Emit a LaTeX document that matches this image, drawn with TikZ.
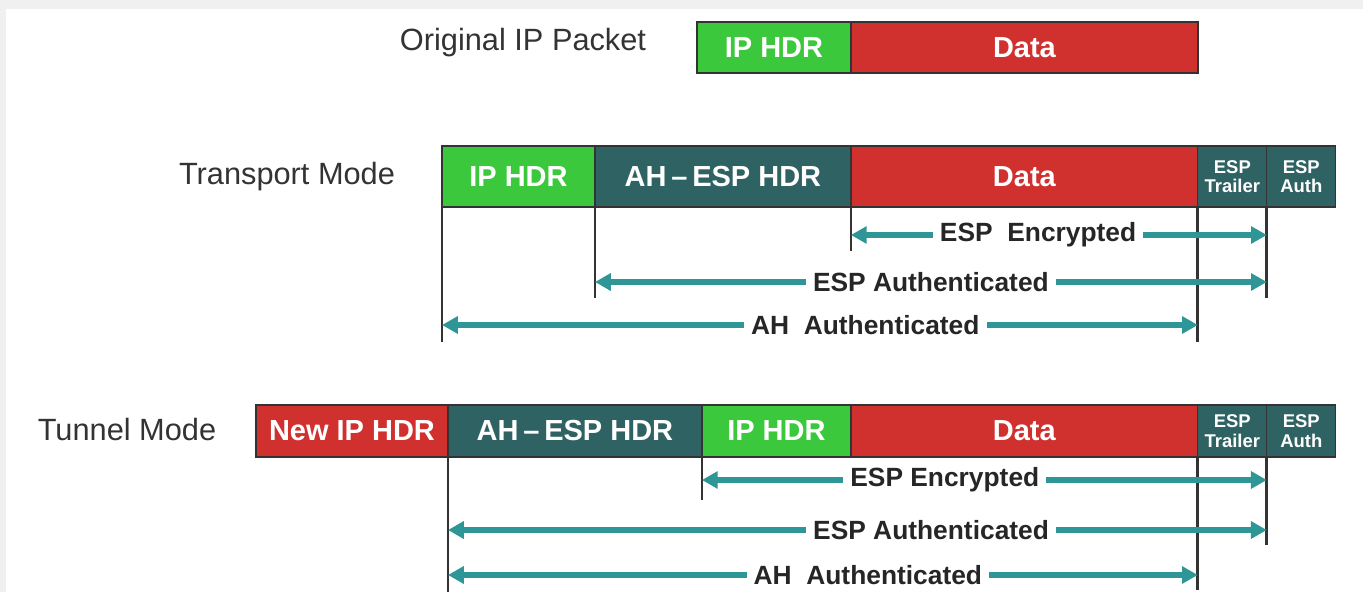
\documentclass[tikz,border=0pt]{standalone}
\usepackage{fontspec}
\setmainfont{Liberation Sans}
\usetikzlibrary{positioning, arrows.meta}
\definecolor{ipsecG}{HTML}{3CC83C}
\definecolor{ipsecR}{HTML}{D0302E}
\definecolor{ipsecT}{HTML}{2F6262}
\definecolor{ipsecA}{HTML}{2E9696}
\definecolor{ipsecK}{HTML}{333333}
\tikzstyle{hdr}=[rectangle, draw=ipsecK, line width=0.7pt, outer sep=0pt, inner sep=1pt, text=white, font=\fontsize{16.5}{18}\selectfont\bfseries]
\tikzstyle{tiny}=[hdr, fill=ipsecT, align=center, font=\fontsize{10.5}{11}\selectfont\bfseries]
\tikzstyle{mode}=[text=ipsecK, font=\fontsize{17.5}{19}\selectfont]
\tikzstyle{drop}=[draw=ipsecK, line width=1.6pt]
\tikzstyle{span}=[draw=ipsecA, line width=3.2pt, {Triangle[length=9pt,width=9.5pt]}-{Triangle[length=9pt,width=9.5pt]}]
\tikzstyle{lbl}=[fill=white, inner xsep=4pt, inner ysep=1pt, text=black!85, font=\fontsize{15}{17}\selectfont\bfseries]

\begin{document}
\begin{tikzpicture}[x=0.02cm, y=-0.02cm]
	\useasboundingbox (0,0) rectangle (1363,592);
	\fill[gray!12] (0,0) rectangle (1363,592);
	\fill[white] (6,9) rectangle (1363,592);

	% Original packet
	\node[mode] (olbl) at (523,43) {Original IP Packet};
	\node[hdr, fill=ipsecG, minimum width=3.08cm, minimum height=1.02cm, anchor=north west] (oip) at (697,22) {IP HDR};
	\node[hdr, fill=ipsecR, minimum width=6.94cm, minimum height=1.02cm, right=0pt of oip] (odata) {Data};

	% Transport mode
	\node[mode] (tlbl) at (287,177) {Transport Mode};
	\node[hdr, fill=ipsecG, minimum width=3.06cm, minimum height=1.22cm, anchor=north west] (tip) at (442,146) {IP HDR};
	\node[hdr, fill=ipsecT, minimum width=5.12cm, minimum height=1.22cm, right=0pt of tip] (tesp) {AH\,--\,ESP HDR};
	\node[hdr, fill=ipsecR, minimum width=6.94cm, minimum height=1.22cm, right=0pt of tesp] (tdata) {Data};
	\node[tiny, minimum width=1.38cm, minimum height=1.22cm, right=0pt of tdata] (ttrl) {ESP\\Trailer};
	\node[tiny, minimum width=1.38cm, minimum height=1.22cm, right=0pt of ttrl] (tauth) {ESP\\Auth};

	\draw[drop] (tip.south west) -- (tip.south west |- 0,342);
	\draw[drop] (tesp.south west) -- (tesp.south west |- 0,298);
	\draw[drop] (tdata.south west) -- (tdata.south west |- 0,251);
	\draw[drop] (ttrl.south west) -- (ttrl.south west |- 0,342);
	\draw[drop] (tauth.south west) -- (tauth.south west |- 0,298);

	\draw[span] (tdata.south west |- 0,235) -- node[lbl, pos=.45] {ESP~ Encrypted} (tauth.south west |- 0,235);
	\draw[span] (tesp.south west |- 0,282) -- node[lbl, pos=.5] {ESP Authenticated} (tauth.south west |- 0,282);
	\draw[span] (tip.south west |- 0,325) -- node[lbl, pos=.56] {AH~ Authenticated} (ttrl.south west |- 0,325);

	% Tunnel mode
	\node[mode] (nlbl) at (127,430) {Tunnel Mode};
	\node[hdr, fill=ipsecR, minimum width=3.84cm, minimum height=1.04cm, anchor=north west] (nnew) at (256,405) {New IP HDR};
	\node[hdr, fill=ipsecT, minimum width=5.08cm, minimum height=1.04cm, right=0pt of nnew] (nesp) {AH\,--\,ESP HDR};
	\node[hdr, fill=ipsecG, minimum width=2.98cm, minimum height=1.04cm, right=0pt of nesp] (nip) {IP HDR};
	\node[hdr, fill=ipsecR, minimum width=6.94cm, minimum height=1.04cm, right=0pt of nip] (ndata) {Data};
	\node[tiny, minimum width=1.38cm, minimum height=1.04cm, right=0pt of ndata] (ntrl) {ESP\\Trailer};
	\node[tiny, minimum width=1.38cm, minimum height=1.04cm, right=0pt of ntrl] (nauth) {ESP\\Auth};

	\draw[drop] (nesp.south west) -- (nesp.south west |- 0,592);
	\draw[drop] (nip.south west) -- (nip.south west |- 0,500);
	\draw[drop] (ntrl.south west) -- (ntrl.south west |- 0,590);
	\draw[drop] (nauth.south west) -- (nauth.south west |- 0,545);

	\draw[span] (nip.south west |- 0,480) -- node[lbl, pos=.43] {ESP Encrypted} (nauth.south west |- 0,480);
	\draw[span] (nesp.south west |- 0,530) -- node[lbl, pos=.59] {ESP Authenticated} (nauth.south west |- 0,530);
	\draw[span] (nesp.south west |- 0,575) -- node[lbl, pos=.56] {AH~ Authenticated} (ntrl.south west |- 0,575);
\end{tikzpicture}
\end{document}
